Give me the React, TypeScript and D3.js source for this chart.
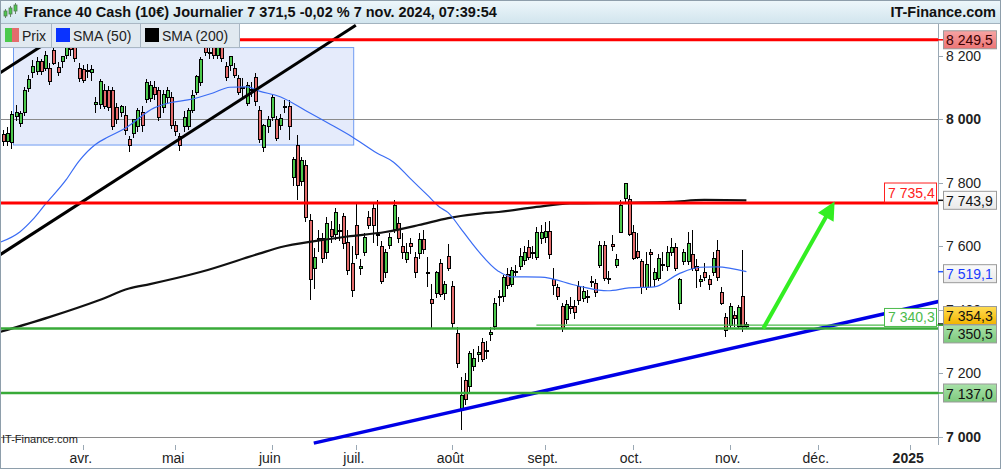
import React from 'react';
import * as d3 from 'd3';

// ---------- DATA ----------
// daily candles: date, open, high, low, close
const CANDLES: [string, number, number, number, number][] = [
  ["2024-03-05", 7950, 7965, 7915, 7930], ["2024-03-06", 7930, 7975, 7915, 7955], ["2024-03-07", 7925, 8025, 7905, 8015],
  ["2024-03-08", 8008, 8045, 7995, 8022], ["2024-03-11", 7985, 8025, 7975, 8018], ["2024-03-12", 8022, 8100, 8010, 8090],
  ["2024-03-13", 8095, 8140, 8085, 8123], ["2024-03-14", 8148, 8185, 8130, 8164], ["2024-03-15", 8150, 8195, 8140, 8180],
  ["2024-03-18", 8180, 8190, 8140, 8150], ["2024-03-19", 8160, 8215, 8150, 8200], ["2024-03-20", 8160, 8175, 8108, 8117],
  ["2024-03-21", 8217, 8240, 8170, 8176], ["2024-03-22", 8162, 8180, 8135, 8145], ["2024-03-25", 8180, 8200, 8160, 8196],
  ["2024-03-26", 8200, 8235, 8190, 8227], ["2024-03-27", 8225, 8245, 8200, 8218], ["2024-03-28", 8235, 8252, 8180, 8192],
  ["2024-03-29", 8160, 8175, 8118, 8128], ["2024-04-01", 8155, 8170, 8112, 8122], ["2024-04-02", 8150, 8172, 8128, 8152],
  ["2024-04-03", 8148, 8170, 8120, 8155], ["2024-04-04", 8045, 8070, 8020, 8053], ["2024-04-05", 8045, 8125, 8030, 8117],
  ["2024-04-08", 8091, 8110, 8030, 8038], ["2024-04-09", 8091, 8105, 8025, 8035], ["2024-04-10", 8091, 8100, 7965, 7975],
  ["2024-04-11", 8035, 8050, 7985, 7997], ["2024-04-12", 8022, 8045, 8005, 8038], ["2024-04-15", 8012, 8040, 7950, 7965],
  ["2024-04-16", 7934, 7945, 7895, 7918], ["2024-04-17", 7955, 8000, 7940, 7997], ["2024-04-18", 7975, 8035, 7960, 8028],
  ["2024-04-19", 8019, 8040, 7960, 7981], ["2024-04-22", 8060, 8125, 8050, 8114], ["2024-04-23", 8066, 8120, 8055, 8107],
  ["2024-04-24", 8098, 8120, 8060, 8076], ["2024-04-25", 8091, 8100, 7995, 8006], ["2024-04-26", 8035, 8090, 8020, 8076],
  ["2024-04-29", 8069, 8100, 8050, 8091], ["2024-04-30", 8069, 8085, 7970, 7981], ["2024-05-01", 7980, 7995, 7945, 7960],
  ["2024-05-02", 7946, 7955, 7900, 7918], ["2024-05-03", 7975, 8025, 7960, 8006], ["2024-05-06", 7975, 8035, 7965, 8028],
  ["2024-05-07", 8028, 8090, 8020, 8075], ["2024-05-08", 8085, 8140, 8075, 8133], ["2024-05-09", 8114, 8195, 8105, 8186],
  ["2024-05-10", 8227, 8240, 8200, 8211], ["2024-05-13", 8205, 8225, 8190, 8208], ["2024-05-14", 8225, 8245, 8190, 8200],
  ["2024-05-15", 8200, 8260, 8190, 8245], ["2024-05-16", 8233, 8250, 8180, 8192], ["2024-05-17", 8164, 8180, 8120, 8132],
  ["2024-05-20", 8170, 8200, 8150, 8196], ["2024-05-21", 8160, 8175, 8130, 8138], ["2024-05-22", 8129, 8140, 8075, 8085],
  ["2024-05-23", 8098, 8130, 8070, 8096], ["2024-05-24", 8050, 8115, 8040, 8107], ["2024-05-27", 8090, 8115, 8070, 8093],
  ["2024-05-28", 8132, 8145, 8040, 8054], ["2024-05-29", 8028, 8040, 7925, 7934], ["2024-05-30", 7909, 7985, 7895, 7978],
  ["2024-05-31", 7975, 8010, 7955, 7997], ["2024-06-03", 8006, 8080, 7995, 8069], ["2024-06-04", 7997, 8010, 7930, 7940],
  ["2024-06-05", 7981, 8015, 7965, 8003], ["2024-06-06", 8035, 8060, 8020, 8038], ["2024-06-07", 8038, 8060, 7935, 7975],
  ["2024-06-10", 7817, 7880, 7790, 7874], ["2024-06-11", 7918, 7950, 7745, 7792], ["2024-06-12", 7802, 7880, 7790, 7868],
  ["2024-06-13", 7855, 7870, 7675, 7691], ["2024-06-14", 7679, 7701, 7430, 7493], ["2024-06-17", 7530, 7595, 7465, 7565],
  ["2024-06-18", 7622, 7650, 7580, 7625], ["2024-06-19", 7625, 7640, 7545, 7562], ["2024-06-20", 7578, 7690, 7560, 7672],
  ["2024-06-21", 7653, 7680, 7610, 7631], ["2024-06-24", 7635, 7720, 7620, 7707], ["2024-06-25", 7650, 7670, 7615, 7647],
  ["2024-06-26", 7694, 7705, 7590, 7609], ["2024-06-27", 7612, 7650, 7510, 7524], ["2024-06-28", 7546, 7600, 7440, 7461],
  ["2024-07-01", 7663, 7740, 7560, 7572], ["2024-07-02", 7530, 7560, 7510, 7534], ["2024-07-03", 7581, 7640, 7570, 7628],
  ["2024-07-04", 7691, 7710, 7655, 7666], ["2024-07-05", 7717, 7740, 7610, 7666], ["2024-07-08", 7632, 7745, 7600, 7635],
  ["2024-07-09", 7600, 7615, 7480, 7487], ["2024-07-10", 7515, 7590, 7500, 7578], ["2024-07-11", 7603, 7640, 7590, 7628],
  ["2024-07-12", 7653, 7745, 7640, 7729], ["2024-07-15", 7672, 7690, 7610, 7625], ["2024-07-16", 7597, 7640, 7560, 7578],
  ["2024-07-17", 7556, 7610, 7545, 7578], ["2024-07-18", 7609, 7625, 7575, 7597], ["2024-07-19", 7565, 7580, 7500, 7515],
  ["2024-07-22", 7575, 7640, 7560, 7619], ["2024-07-23", 7622, 7650, 7575, 7590], ["2024-07-24", 7515, 7565, 7470, 7512],
  ["2024-07-25", 7430, 7480, 7340, 7420], ["2024-07-26", 7449, 7520, 7435, 7515], ["2024-07-29", 7546, 7560, 7440, 7446],
  ["2024-07-30", 7449, 7490, 7430, 7480], ["2024-07-31", 7568, 7605, 7520, 7530], ["2024-08-01", 7474, 7490, 7340, 7357],
  ["2024-08-02", 7323, 7345, 7215, 7231], ["2024-08-05", 7083, 7187, 7020, 7130], ["2024-08-06", 7175, 7200, 7100, 7115],
  ["2024-08-07", 7156, 7270, 7140, 7260], ["2024-08-08", 7222, 7275, 7205, 7247], ["2024-08-09", 7258, 7285, 7235, 7263],
  ["2024-08-12", 7295, 7310, 7235, 7241], ["2024-08-13", 7270, 7300, 7245, 7272], ["2024-08-14", 7322, 7345, 7300, 7326],
  ["2024-08-15", 7345, 7435, 7335, 7420], ["2024-08-16", 7442, 7460, 7410, 7440], ["2024-08-19", 7440, 7510, 7425, 7502],
  ["2024-08-20", 7509, 7530, 7465, 7477], ["2024-08-21", 7480, 7535, 7470, 7524], ["2024-08-22", 7520, 7540, 7505, 7521],
  ["2024-08-23", 7534, 7595, 7525, 7568], ["2024-08-26", 7553, 7600, 7540, 7581], ["2024-08-27", 7594, 7620, 7555, 7565],
  ["2024-08-28", 7580, 7600, 7560, 7581], ["2024-08-29", 7565, 7660, 7555, 7641], ["2024-08-30", 7625, 7665, 7605, 7644],
  ["2024-09-02", 7628, 7675, 7610, 7645], ["2024-09-03", 7647, 7680, 7560, 7572], ["2024-09-04", 7493, 7530, 7446, 7477],
  ["2024-09-05", 7468, 7480, 7430, 7440], ["2024-09-06", 7408, 7420, 7330, 7339], ["2024-09-09", 7367, 7430, 7355, 7417],
  ["2024-09-10", 7408, 7440, 7385, 7402], ["2024-09-11", 7411, 7430, 7370, 7392], ["2024-09-12", 7471, 7490, 7415, 7427],
  ["2024-09-13", 7436, 7475, 7425, 7458], ["2024-09-16", 7442, 7460, 7420, 7440], ["2024-09-17", 7485, 7505, 7470, 7487],
  ["2024-09-18", 7483, 7495, 7440, 7452], ["2024-09-19", 7540, 7615, 7530, 7603], ["2024-09-20", 7603, 7615, 7490, 7499],
  ["2024-09-23", 7498, 7520, 7480, 7496], ["2024-09-24", 7606, 7635, 7585, 7597], ["2024-09-25", 7540, 7575, 7530, 7559],
  ["2024-09-26", 7644, 7745, 7640, 7729], ["2024-09-27", 7751, 7800, 7740, 7798], ["2024-09-30", 7745, 7760, 7630, 7635],
  ["2024-10-01", 7641, 7665, 7555, 7562], ["2024-10-02", 7584, 7640, 7560, 7565], ["2024-10-03", 7550, 7560, 7450, 7468],
  ["2024-10-04", 7468, 7580, 7460, 7543], ["2024-10-07", 7578, 7590, 7470, 7572], ["2024-10-08", 7493, 7530, 7470, 7518],
  ["2024-10-09", 7499, 7575, 7490, 7562], ["2024-10-10", 7540, 7580, 7520, 7541], ["2024-10-11", 7534, 7600, 7520, 7578],
  ["2024-10-14", 7578, 7625, 7570, 7594], ["2024-10-15", 7594, 7610, 7520, 7530], ["2024-10-16", 7420, 7500, 7400, 7493],
  ["2024-10-17", 7550, 7590, 7540, 7581], ["2024-10-18", 7550, 7645, 7540, 7609], ["2024-10-21", 7572, 7650, 7520, 7530],
  ["2024-10-22", 7534, 7560, 7468, 7524], ["2024-10-23", 7487, 7510, 7470, 7496], ["2024-10-24", 7515, 7545, 7490, 7502],
  ["2024-10-25", 7493, 7510, 7460, 7480], ["2024-10-28", 7515, 7580, 7505, 7562], ["2024-10-29", 7587, 7620, 7490, 7502],
  ["2024-10-30", 7452, 7470, 7415, 7420], ["2024-10-31", 7376, 7390, 7313, 7335], ["2024-11-01", 7351, 7420, 7340, 7408],
  ["2024-11-04", 7380, 7395, 7345, 7373], ["2024-11-05", 7345, 7415, 7338, 7405], ["2024-11-06", 7440, 7586, 7330, 7345],
  ["2024-11-07", 7345, 7362, 7340, 7354],
];

const SMA50: [string, number][] = [
  ["2024-03-04", 7610], ["2024-03-11", 7644], ["2024-03-14", 7682], ["2024-03-19", 7730], ["2024-03-26", 7808],
  ["2024-03-29", 7866], ["2024-04-04", 7920], ["2024-04-09", 7943], ["2024-04-15", 7970], ["2024-04-24", 8035],
  ["2024-04-30", 8052], ["2024-05-06", 8060], ["2024-05-14", 8082], ["2024-05-20", 8100], ["2024-05-24", 8101],
  ["2024-05-29", 8088], ["2024-06-05", 8070], ["2024-06-13", 8027], ["2024-06-21", 7983], ["2024-06-28", 7945],
  ["2024-07-08", 7893], ["2024-07-12", 7864], ["2024-07-18", 7812], ["2024-07-24", 7761], ["2024-07-29", 7722],
  ["2024-07-31", 7705], ["2024-08-05", 7655], ["2024-08-07", 7620], ["2024-08-16", 7520], ["2024-08-21", 7503],
  ["2024-08-30", 7502], ["2024-09-12", 7474], ["2024-09-23", 7459], ["2024-09-30", 7468], ["2024-10-08", 7471],
  ["2024-10-16", 7513], ["2024-10-23", 7533], ["2024-10-29", 7534], ["2024-11-07", 7519.1],
];

const SMA200: [string, number][] = [
  ["2024-03-04", 7328], ["2024-03-20", 7376], ["2024-04-05", 7430], ["2024-04-16", 7466], ["2024-04-23", 7480],
  ["2024-05-09", 7518], ["2024-05-29", 7576], ["2024-06-05", 7596], ["2024-06-18", 7617], ["2024-06-27", 7630],
  ["2024-07-10", 7644], ["2024-07-22", 7666], ["2024-07-31", 7688], ["2024-08-12", 7703], ["2024-08-16", 7707],
  ["2024-08-29", 7723], ["2024-09-10", 7734], ["2024-09-30", 7736], ["2024-10-14", 7739], ["2024-10-24", 7745],
  ["2024-11-07", 7743.9],
];

// drawn trend lines (two anchors each: date, price)
const CHANNEL_LOW: [string, number][] = [["2024-03-04", 7570], ["2024-07-01", 8295]];
const CHANNEL_HIGH: [string, number][] = [["2024-03-04", 8143], ["2024-07-01", 8868]];
const SUPPORT_LINE: [string, number][] = [["2024-06-17", 6979], ["2025-01-10", 7426]];
const ARROW: [string, number][] = [["2024-11-13", 7340], ["2024-12-06", 7740]];

// horizontal levels
const LEVEL_RED_TOP = 8249.5;
const LEVEL_RED_MID = 7735.4;
const LEVEL_GREEN_A = 7340.3;
const LEVEL_GREEN_B = 7137.0;
const LEVEL_GREEN_THIN: [string, number] = ["2024-08-29", 7350.5];

// highlighted zone: from, to, top, bottom
const ZONE: [string, string, number, number] = ["2024-03-08", "2024-06-28", 8225, 7918];

const PRICE_TICKS = [7000, 7200, 7400, 7600, 7800, 8000, 8200];
const BOLD_TICKS = [7000, 8000];

const MONTH_TICKS: [string, string][] = [
  ["2024-04-01", "avr."], ["2024-05-01", "mai"], ["2024-06-03", "juin"], ["2024-07-01", "juil."],
  ["2024-08-01", "août"], ["2024-09-02", "sept."], ["2024-10-01", "oct."], ["2024-11-01", "nov."],
  ["2024-12-02", "déc."], ["2025-01-01", "2025"],
];

const AXIS_BOXES: { v: number; label: string; kind: string; dy: number }[] = [
  { v: 8249.5, label: "8 249,5", kind: "red", dy: 0 },
  { v: 7743.9, label: "7 743,9", kind: "light", dy: 0 },
  { v: 7519.1, label: "7 519,1", kind: "blue", dy: 2 },
  { v: 7354.3, label: "7 354,3", kind: "gold", dy: -8.5 },
  { v: 7350.5, label: "7 350,5", kind: "green", dy: 8.7 },
  { v: 7137.0, label: "7 137,0", kind: "green", dy: 0 },
];

const TITLE = "France 40 Cash (10€) Journalier 7 371,5 -0,02 % 7 nov. 2024, 07:39:54";
const BRAND = "IT-Finance.com";

// ---------- CHART ----------
const FONT = '"Liberation Sans", Arial, Helvetica, sans-serif';

export default function App() {
  const W = 1001, H = 469;
  const axisX = 938;
  const plotTop = 23, plotBottom = 445;

  const days = d3.utcDay
    .range(new Date(Date.UTC(2024, 2, 4)), new Date(Date.UTC(2025, 0, 11)))
    .filter((d) => d.getUTCDay() !== 0 && d.getUTCDay() !== 6)
    .map((d) => d3.utcFormat("%Y-%m-%d")(d));

  const x = d3.scalePoint<string>().domain(days).range([-1.2, -1.2 + 4.2 * (days.length - 1)]);
  const step = x.step();
  const y = d3.scaleLinear().domain([7000, 8000]).range([436.5, 119]);
  const X = (d: string) => x(d) as number;

  const lineGen = d3
    .line<[string, number]>()
    .x((d) => X(d[0]))
    .y((d) => y(d[1]))
    .curve(d3.curveMonotoneX);
  const straight = d3
    .line<[string, number]>()
    .x((d) => X(d[0]))
    .y((d) => y(d[1]));

  const boxFill: Record<string, string> = {
    red: "url(#gRed)", light: "url(#gLight)", blue: "url(#gLight)", gold: "url(#gGold)", green: "url(#gGreen)",
  };
  const boxText: Record<string, string> = {
    red: "#3a0000", light: "#111", blue: "#1a3cff", gold: "#111", green: "#111",
  };
  const dashColor: Record<string, string> = {
    red: "#ff0000", light: "#111", blue: "#2a5cff", gold: "#111", green: "#33aa33",
  };

  const arrowStart: [number, number] = [X(ARROW[0][0]), y(ARROW[0][1])];
  const arrowEnd: [number, number] = [X(ARROW[1][0]), y(ARROW[1][1])];
  const ang = Math.atan2(arrowEnd[1] - arrowStart[1], arrowEnd[0] - arrowStart[0]);
  const headLen = 18, headW = 9;
  const shaftEnd: [number, number] = [arrowEnd[0] - Math.cos(ang) * (headLen - 2), arrowEnd[1] - Math.sin(ang) * (headLen - 2)];
  const hb: [number, number] = [arrowEnd[0] - Math.cos(ang) * headLen, arrowEnd[1] - Math.sin(ang) * headLen];
  const headPts = [
    arrowEnd,
    [hb[0] + Math.sin(ang) * headW, hb[1] - Math.cos(ang) * headW],
    [hb[0] - Math.sin(ang) * headW, hb[1] + Math.cos(ang) * headW],
  ].map((p) => p.join(",")).join(" ");

  return (
    <svg
      width={W}
      height={H}
      style={{ position: "absolute", left: 0, top: 0, fontFamily: FONT, background: "#fff" }}
    >
      <defs>
        <clipPath id="plotClip">
          <rect x={1} y={plotTop} width={axisX - 1} height={plotBottom - plotTop} />
        </clipPath>
        <linearGradient id="gHead" x1="0" y1="0" x2="0" y2="1">
          <stop offset="0" stopColor="#eef7fb" />
          <stop offset="1" stopColor="#d2e5ee" />
        </linearGradient>
        <linearGradient id="gRed" x1="0" y1="0" x2="0" y2="1">
          <stop offset="0" stopColor="#f7a4a4" />
          <stop offset="1" stopColor="#ec7474" />
        </linearGradient>
        <linearGradient id="gLight" x1="0" y1="0" x2="0" y2="1">
          <stop offset="0" stopColor="#fbfbfb" />
          <stop offset="1" stopColor="#e9e9e9" />
        </linearGradient>
        <linearGradient id="gGold" x1="0" y1="0" x2="0" y2="1">
          <stop offset="0" stopColor="#ffdd55" />
          <stop offset="1" stopColor="#f2b400" />
        </linearGradient>
        <linearGradient id="gGreen" x1="0" y1="0" x2="0" y2="1">
          <stop offset="0" stopColor="#a9e2a9" />
          <stop offset="1" stopColor="#7dc97d" />
        </linearGradient>
      </defs>

      <rect x={0} y={0} width={W} height={H} fill="#fff" />

      <g clipPath="url(#plotClip)">
        {/* highlighted zone */}
        <rect
          x={X(ZONE[0]) - step / 2}
          y={y(ZONE[2])}
          width={X(ZONE[1]) - X(ZONE[0]) + step}
          height={y(ZONE[3]) - y(ZONE[2])}
          fill="#e5ebfb"
          stroke="#6f9cf2"
          strokeWidth={1}
        />
        {/* grid lines */}
        {BOLD_TICKS.map((t) => (
          <line key={t} x1={0} x2={axisX} y1={Math.round(y(t)) + 0.5} y2={Math.round(y(t)) + 0.5} stroke="#8a8a8a" strokeWidth={1} />
        ))}

        {/* candles */}
        <g shapeRendering="crispEdges">
          {CANDLES.map(([d, o, h, l, c]) => {
            const cx = Math.round(X(d));
            const up = c >= o;
            const top = y(Math.max(o, c));
            const bh = Math.max(1, Math.abs(y(o) - y(c)));
            return (
              <g key={d}>
                <line x1={cx + 0.5} x2={cx + 0.5} y1={y(h)} y2={y(l)} stroke="#000" strokeWidth={1} />
                <rect x={cx - 1} y={top} width={3} height={bh} fill={up ? "#4cc94c" : "#e46c6c"} stroke="#000" strokeWidth={1} />
              </g>
            );
          })}
        </g>

        {/* moving averages */}
        <path d={lineGen(SMA200) || ""} fill="none" stroke="#111" strokeWidth={2.2} />
        <path d={lineGen(SMA50) || ""} fill="none" stroke="#3a6cf4" strokeWidth={1.2} />

        {/* trend lines */}
        <path d={straight(CHANNEL_LOW) || ""} fill="none" stroke="#000" strokeWidth={3} />
        <path d={straight(CHANNEL_HIGH) || ""} fill="none" stroke="#000" strokeWidth={3} />
        <path d={straight(SUPPORT_LINE) || ""} fill="none" stroke="#0000e6" strokeWidth={3.5} />

        {/* horizontal levels */}
        <line x1={0} x2={axisX} y1={y(LEVEL_RED_TOP)} y2={y(LEVEL_RED_TOP)} stroke="#ff0000" strokeWidth={3} />
        <line x1={0} x2={axisX} y1={y(LEVEL_RED_MID)} y2={y(LEVEL_RED_MID)} stroke="#ff0000" strokeWidth={3} />
        <line x1={0} x2={axisX} y1={y(LEVEL_GREEN_A)} y2={y(LEVEL_GREEN_A)} stroke="#38aa38" strokeWidth={2.5} />
        <line x1={0} x2={axisX} y1={y(LEVEL_GREEN_B)} y2={y(LEVEL_GREEN_B)} stroke="#38aa38" strokeWidth={2.5} />
        <line
          x1={X(LEVEL_GREEN_THIN[0])} x2={axisX}
          y1={y(LEVEL_GREEN_THIN[1])} y2={y(LEVEL_GREEN_THIN[1])}
          stroke="#4cbb4c" strokeWidth={1.3}
        />

        {/* arrow */}
        <line x1={arrowStart[0]} y1={arrowStart[1]} x2={shaftEnd[0]} y2={shaftEnd[1]} stroke="#33ee22" strokeWidth={4} />
        <polygon points={headPts} fill="#33ee22" />

        {/* in-plot level labels */}
        <rect x={884.5} y={y(LEVEL_RED_MID) - 20} width={52} height={19} fill="#fff" stroke="#ff2020" strokeWidth={1} />
        <text x={888} y={y(LEVEL_RED_MID) - 10.5} dominantBaseline="central" fontSize={14} fill="#ff2020">7 735,4</text>
        <rect x={884.5} y={y(LEVEL_GREEN_A) - 20} width={52} height={18} fill="#fff" stroke="#4cbb4c" strokeWidth={1} />
        <text x={888} y={y(LEVEL_GREEN_A) - 11} dominantBaseline="central" fontSize={14} fill="#4cbb4c">7 340,3</text>
      </g>

      {/* watermark */}
      <text x={2} y={443} fontSize={11} fill="#222">IT-Finance.com</text>

      {/* right axis */}
      <line x1={axisX + 0.5} x2={axisX + 0.5} y1={plotTop} y2={plotBottom} stroke="#9aa8b4" strokeWidth={1} />
      {PRICE_TICKS.map((t) => (
        <g key={t}>
          <line x1={axisX} x2={axisX + 5} y1={Math.round(y(t)) + 0.5} y2={Math.round(y(t)) + 0.5} stroke="#9aa8b4" />
          <text
            x={946}
            y={y(t)}
            dominantBaseline="central"
            fontSize={14}
            fontWeight={BOLD_TICKS.includes(t) ? "bold" : "normal"}
            fill="#222"
          >
            {d3.format(",")(t).replace(",", " ")}
          </text>
        </g>
      ))}
      {AXIS_BOXES.map((b) => {
        const cy = y(b.v) + b.dy;
        return (
          <g key={b.label}>
            <line x1={axisX} x2={944} y1={y(b.v)} y2={y(b.v)} stroke={dashColor[b.kind]} strokeWidth={1.5} />
            <rect x={943.5} y={cy - 9} width={53} height={18} fill={boxFill[b.kind]} stroke="#9a9a9a" strokeWidth={1} />
            <text x={946} y={cy + 0.5} dominantBaseline="central" fontSize={14} fill={boxText[b.kind]}>{b.label}</text>
          </g>
        );
      })}

      {/* bottom axis */}
      {MONTH_TICKS.map(([d, lab]) => (
        <g key={d}>
          <line x1={Math.round(X(d)) + 0.5} x2={Math.round(X(d)) + 0.5} y1={plotBottom} y2={plotBottom + 5} stroke="#9aa8b4" />
          <text
            x={X(d) - 2}
            y={463}
            textAnchor="middle"
            fontSize={14}
            fontWeight={lab === "2025" ? "bold" : "normal"}
            fill="#222"
          >
            {lab}
          </text>
        </g>
      ))}

      {/* header */}
      <rect x={0} y={0} width={W} height={23} fill="url(#gHead)" />
      <line x1={0} x2={W} y1={23.5} y2={23.5} stroke="#a3b3bf" />
      <g>
        <line x1={5.5} x2={5.5} y1={9} y2={18} stroke="#6a8a6a" />
        <rect x={4} y={11} width={3} height={5} fill="#4cc94c" stroke="#557755" strokeWidth={0.8} />
        <line x1={10.5} x2={10.5} y1={6} y2={17} stroke="#6a8a6a" />
        <rect x={9} y={8} width={3} height={6} fill="#4cc94c" stroke="#557755" strokeWidth={0.8} />
        <line x1={15.5} x2={15.5} y1={3} y2={14} stroke="#6a8a6a" />
        <rect x={14} y={5} width={3} height={6} fill="#4cc94c" stroke="#557755" strokeWidth={0.8} />
      </g>
      <text x={24} y={17} fontSize={14.5} fontWeight="bold" fill="#111">{TITLE}</text>
      <text x={996} y={17} fontSize={14.5} fontWeight="bold" fill="#111" textAnchor="end">{BRAND}</text>

      {/* legend */}
      <g>
        <rect x={0.5} y={23.5} width={51} height={24} fill="#e1e9f0" stroke="#a9b7c4" />
        <rect x={5} y={28} width={7} height={14} fill="#4cc94c" />
        <rect x={12} y={28} width={7} height={14} fill="#e46c6c" />
        <text x={22} y={36} dominantBaseline="central" fontSize={14} fill="#222">Prix</text>

        <rect x={51.5} y={23.5} width={89} height={24} fill="#e1e9f0" stroke="#a9b7c4" />
        <rect x={56} y={28} width={14} height={14} fill="#0a33ff" />
        <text x={73} y={36} dominantBaseline="central" fontSize={14} fill="#222">SMA (50)</text>

        <rect x={140.5} y={23.5} width={99} height={24} fill="#e1e9f0" stroke="#a9b7c4" />
        <rect x={145} y={28} width={14} height={14} fill="#000" />
        <text x={162} y={36} dominantBaseline="central" fontSize={14} fill="#222">SMA (200)</text>
      </g>

      {/* frame */}
      <rect x={0.5} y={0.5} width={W - 1} height={H - 1} fill="none" stroke="#8e9eab" />
    </svg>
  );
}
